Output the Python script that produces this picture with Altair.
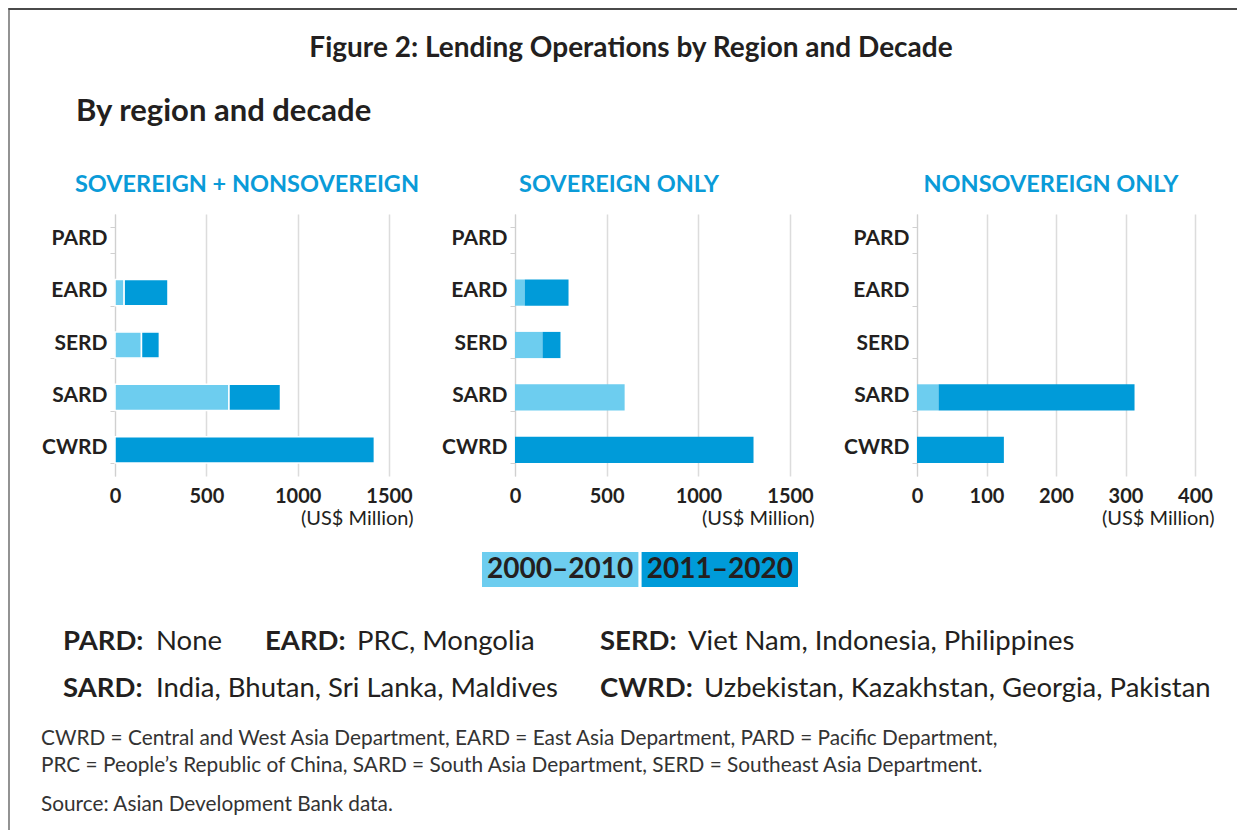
import altair as alt
import pandas as pd

FONT = "Lato"
TXT = "#231f20"
BLUE_TITLE = "#0a9bd8"
LIGHT = "#6dcdef"
DARK = "#009bd9"
GRID = "#dcdcdc"
AXISC = "#d0d0d0"
FRAME = "#4a4a4a"

# ---------------- data ----------------
regions = ["PARD", "EARD", "SERD", "SARD", "CWRD"]
periods = ["2000–2010", "2011–2020"]
ticks_big = [0, 500, 1000, 1500]
ticks_small = [0, 100, 200, 300, 400]

# US$ million, per region (PARD, EARD, SERD, SARD, CWRD)
both_early = [0, 50, 145, 624, 0]
both_late = [0, 240, 98, 282, 1420]
sov_early = [0, 53, 150, 598, 0]
sov_late = [0, 239, 98, 0, 1301]
nonsov_early = [0, 0, 0, 31, 0]
nonsov_late = [0, 0, 0, 282, 125]

panel_titles = ["SOVEREIGN + NONSOVEREIGN", "SOVEREIGN ONLY", "NONSOVEREIGN ONLY"]
unit_label = "(US$ Million)"
fig_title = "Figure 2: Lending Operations by Region and Decade"
subtitle = "By region and decade"
note_depts = ["PARD:", "EARD:", "SERD:", "SARD:", "CWRD:"]
note_members = [
    "None",
    "PRC, Mongolia",
    "Viet Nam, Indonesia, Philippines",
    "India, Bhutan, Sri Lanka, Maldives",
    "Uzbekistan, Kazakhstan, Georgia, Pakistan",
]
footnotes = [
    "CWRD = Central and West Asia Department, EARD = East Asia Department, PARD = Pacific Department,",
    "PRC = People\u2019s Republic of China, SARD = South Asia Department, SERD = Southeast Asia Department.",
    "Source: Asian Development Bank data.",
]

# ---------------- layout ----------------
PH = 262          # plot height of the panels
LEFT = 106        # distance from the frame line to the first plot's left edge
W_ROW = 1122      # width of the full-width rows, measured from the first plot's left edge


def one():
    return pd.DataFrame({"v": [0]})


def frame_line(y1, y2):
    # thin filled strip (exact bounds, so the rows' pieces join up)
    return alt.Chart(one()).mark_rect(color=FRAME).encode(
        x=alt.value(-LEFT - 0.6), x2=alt.value(-LEFT + 0.6), y=alt.value(y1), y2=alt.value(y2)
    )


def ghost(x, y1, y2):
    return alt.Chart(one()).mark_rule(opacity=0).encode(
        x=alt.value(x), y=alt.value(y1), y2=alt.value(y2)
    )


def text(t, x, y, size, weight="normal", color=TXT, align="left", baseline="alphabetic"):
    return alt.Chart(pd.DataFrame({"t": [t]})).mark_text(
        font=FONT, fontSize=size, fontWeight=weight, color=color, align=align, baseline=baseline
    ).encode(x=alt.value(x), y=alt.value(y), text="t:N")


def panel(title, early, late, domain, ticks, width, title_dx, unit_dx, left_ext, right_ext,
          frame=False, gap=False):
    n = len(regions)
    df = pd.DataFrame({
        "region": regions * 2,
        "period": [periods[0]] * n + [periods[1]] * n,
        "value": early + late,
        "k": [0] * n + [1] * n,
    })
    bar_kw = dict(stroke="white", strokeWidth=1.5) if gap else dict(strokeWidth=0)
    bars = alt.Chart(df).transform_filter("datum.value > 0").mark_bar(**bar_kw).encode(
        x=alt.X(
            "value:Q", stack="zero",
            scale=alt.Scale(domain=domain, nice=False, zero=True),
            axis=alt.Axis(
                values=ticks, format="d", grid=True, gridColor=GRID, gridWidth=1.5,
                domain=False, ticks=False, labelFlush=False,
                labelFont=FONT, labelFontSize=20, labelFontWeight="bold", labelColor=TXT,
                labelPadding=10,
                title=unit_label, titleFont=FONT, titleFontSize=20, titleFontWeight="normal",
                titleColor=TXT, titleAnchor="end", titleAlign="right", titleBaseline="alphabetic",
                titleX=width + unit_dx, titleY=48,
            ),
        ),
        y=alt.Y(
            "region:N", sort=regions,
            scale=alt.Scale(domain=regions, paddingInner=0.5, paddingOuter=0.25),
            axis=alt.Axis(
                title=None, tickBand="extent", tickSize=5, tickColor=AXISC, domainColor=AXISC,
                labelFont=FONT, labelFontSize=21, labelFontWeight="bold", labelColor=TXT,
                labelPadding=3, labelOffset=-2,
            ),
        ),
        color=alt.Color("period:N", scale=alt.Scale(domain=periods, range=[LIGHT, DARK]), legend=None),
        order=alt.Order("k:Q"),
    )
    layers = [bars, text(title, width / 2 + title_dx, -22, 23.5, "bold", BLUE_TITLE, "center")]
    if frame:
        layers.append(frame_line(-66, PH + 66))
    else:
        layers.append(ghost(-left_ext, 0, PH))
    layers.append(ghost(width + right_ext, 0, PH))
    return alt.layer(*layers).properties(width=width, height=PH)


p1 = panel(panel_titles[0], both_early, both_late, [0, 1500], ticks_big, 274, -5, 24, LEFT, 45,
           frame=True, gap=True)
p2 = panel(panel_titles[1], sov_early, sov_late, [0, 1500], ticks_big, 275, -33.5, 24, 81, 40)
p3 = panel(panel_titles[2], nonsov_early, nonsov_late, [0, 400], ticks_small, 278, -5, 19, 87, 40)

# header (x measured from the first plot's left edge)
header = alt.layer(
    alt.Chart(one()).mark_rect(color=FRAME).encode(
        x=alt.value(-LEFT - 0.6), x2=alt.value(W_ROW), y=alt.value(0), y2=alt.value(2)),
    frame_line(0, 140),
    text(fig_title, 516, 41, 28, "bold", align="center", baseline="middle"),
    text(subtitle, -39, 104, 31, "bold", baseline="middle"),
).properties(width=W_ROW, height=140)

# legend
leg_df = pd.DataFrame({"period": periods})
leg_x = alt.X("period:N", scale=alt.Scale(domain=periods, range=[367, 683], paddingInner=0.02,
                                          paddingOuter=0), axis=None)
leg_rects = alt.Chart(leg_df).mark_rect().encode(
    x=leg_x, y=alt.value(10), y2=alt.value(45),
    color=alt.Color("period:N", scale=alt.Scale(domain=periods, range=[LIGHT, DARK]), legend=None),
)
leg_text = alt.Chart(leg_df).mark_text(
    font=FONT, fontSize=28, fontWeight="bold", color=TXT, baseline="middle"
).encode(x=leg_x, y=alt.value(28), text="period:N")
legend_row = alt.layer(leg_rects, leg_text, frame_line(0, 62)).properties(width=W_ROW, height=62)

# notes
note_pos = [(-52, 41, 46), (150, 242, 46), (485, 573, 46), (-52, 41, 93), (485, 589, 93)]
notes_layers = [frame_line(0, 226)]
for d, m, (xb, xr, yb) in zip(note_depts, note_members, note_pos):
    notes_layers.append(text(d, xb, yb, 27.5, "bold"))
    notes_layers.append(text(m, xr, yb, 27.5, "normal"))
for t, yb in zip(footnotes, [141, 168, 207]):
    notes_layers.append(text(t, -74, yb, 20.8, "normal", color="#333333"))
notes_row = alt.layer(*notes_layers).properties(width=W_ROW, height=226)

chart = alt.vconcat(
    header,
    alt.hconcat(p1, p2, p3, spacing=0),
    legend_row,
    notes_row,
    spacing=0,
).properties(padding=0).configure_view(strokeWidth=0)

chart.save("out.html", embed_options={"renderer": "svg", "actions": False})
